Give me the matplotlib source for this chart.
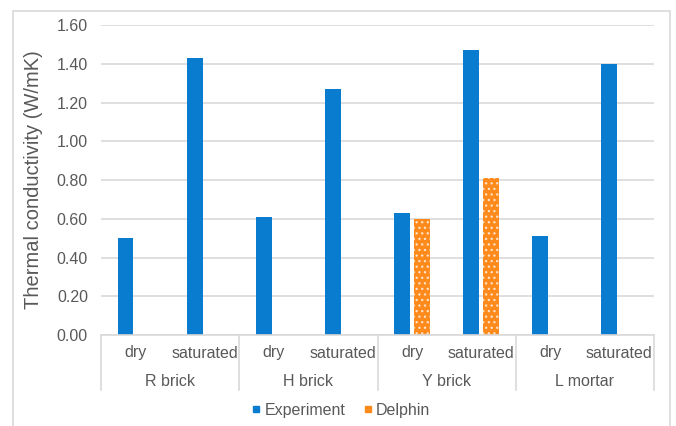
import matplotlib

matplotlib.use("Agg")
import matplotlib.pyplot as plt
import numpy as np
from matplotlib.patches import Rectangle
from matplotlib.lines import Line2D

plt.rcParams["font.family"] = ["Liberation Sans", "DejaVu Sans"]
plt.rcParams["hatch.linewidth"] = 0.9

# Données
groups = ["R brick", "H brick", "Y brick", "L mortar"]
states = ["dry", "saturated"]
experiment = [0.50, 1.43, 0.61, 1.27, 0.63, 1.47, 0.51, 1.40]
delphin = [np.nan, np.nan, np.nan, np.nan, 0.60, 0.81, np.nan, np.nan]
yticks = [0.0, 0.2, 0.4, 0.6, 0.8, 1.0, 1.2, 1.4, 1.6]

blue = "#0A7CCF"
orange = "#FF8A1C"
grey_txt = "#595959"
grid_c = "#D9D9D9"

W, H = 676, 426
fig = plt.figure(figsize=(W / 100, H / 100), dpi=100)
ax = fig.add_axes([101 / W, 1 - 335 / H, 553 / W, 310 / H])

n = len(experiment)
x = np.arange(n)
bw = 0.23
ax.bar(x - bw / 2 - 0.03, experiment, width=bw, color=blue, zorder=3)
ax.bar(x + bw / 2 + 0.03, delphin, width=bw, color=orange, hatch="...",
       edgecolor="#FFE3C8", linewidth=0, zorder=3)

ax.set_xlim(-0.5, n - 0.5)
ax.set_ylim(0, 1.6)
ax.set_yticks(yticks)
ax.set_yticklabels([f"{v:.2f}" for v in yticks])
ax.tick_params(axis="y", length=0, pad=9.4, labelsize=11.5, labelcolor=grey_txt)
ax.set_xticks([])
ax.grid(axis="y", color=grid_c, lw=1.2, zorder=0)
for s in ax.spines.values():
    s.set_visible(False)
ax.set_ylabel("Thermal conductivity (W/mK)", fontsize=14.5, color=grey_txt)
ax.yaxis.set_label_coords((43 - 101) / 553, 0.5)

# Axe des catégories sur deux niveaux
trans = ax.get_xaxis_transform()
ax.plot([-0.5, n - 0.5], [0, 0], color=grid_c, lw=1.2, transform=trans, clip_on=False, zorder=4)
for i in range(len(groups) + 1):
    ax.plot([i * 2 - 0.5] * 2, [0, -55 / 310], color=grid_c, lw=1.2,
            transform=trans, clip_on=False)
for i in range(n):
    ax.text(x[i], -18 / 310, states[i % 2], ha="center", va="center",
            fontsize=11.5, color=grey_txt, transform=trans)
for g, name in enumerate(groups):
    ax.text(g * 2 + 0.5, -46 / 310, name, ha="center", va="center",
            fontsize=11.5, color=grey_txt, transform=trans)

# Légende
handles = [Line2D([], [], marker="s", ls="", color=blue, markersize=5),
           Line2D([], [], marker="s", ls="", color=orange, markersize=5)]
fig.legend(handles, ["Experiment", "Delphin"], loc="center", bbox_to_anchor=(340 / W, 1 - 410 / H),
           ncol=2, frameon=False, fontsize=11.5, labelcolor=grey_txt, handletextpad=0.1,
           columnspacing=1.0, handlelength=0.8)

# Cadre du graphique
fig.patches.append(Rectangle((13 / W, -0.02), 657 / W, 1 - 11 / H + 0.02, transform=fig.transFigure,
                             fill=False, edgecolor=grid_c, lw=1.2))

fig.savefig("out.png", dpi=100)
